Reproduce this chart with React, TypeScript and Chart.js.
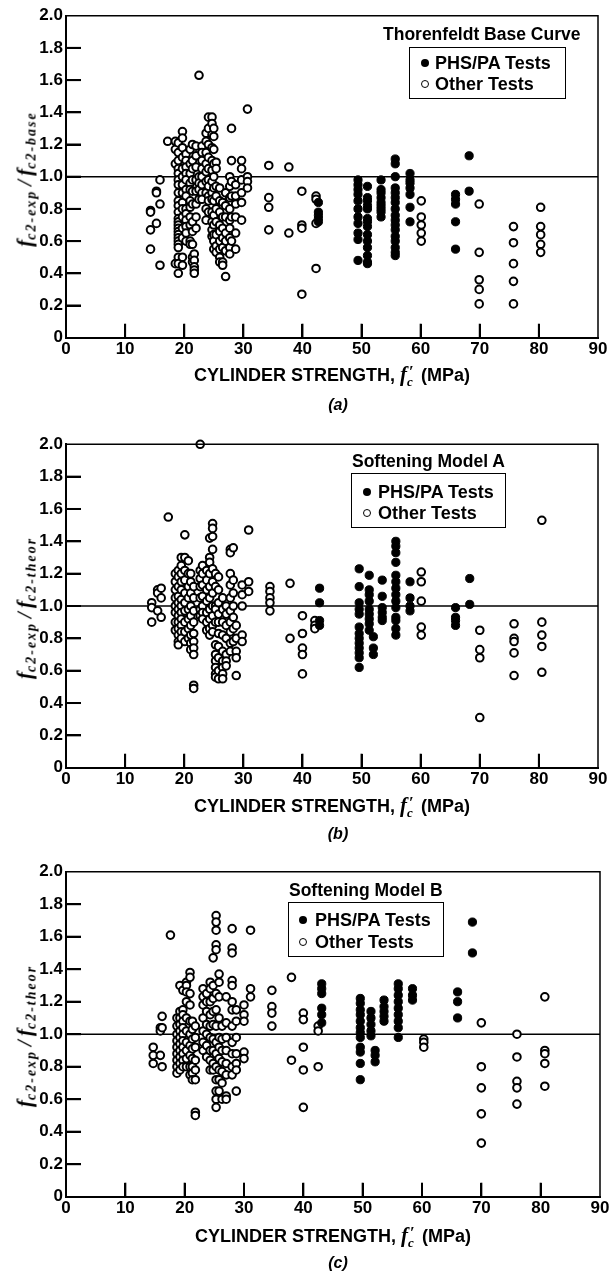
import React, { useEffect, useRef, useState } from "react";
import { Chart, registerables } from "chart.js";

Chart.register(...registerables);

type Col = [number, number[]];

// ---------- axes ----------
const X_MIN = 0;
const X_MAX = 90;
const Y_MIN = 0;
const Y_MAX = 2;
const X_TICKS = [0, 10, 20, 30, 40, 50, 60, 70, 80, 90];
const Y_TICKS = [0, 0.2, 0.4, 0.6, 0.8, 1.0, 1.2, 1.4, 1.6, 1.8, 2.0];
const REF_LINE = [
  { x: 0, y: 1 },
  { x: 90, y: 1 },
];

// ---------- data (x = cylinder strength MPa, list of ratios read at that x) ----------
const OTHER_A: Col[] = [
  [14.3, [0.79, 0.78, 0.67, 0.55]],
  [15.3, [0.91, 0.9, 0.71]],
  [15.9, [0.98, 0.83, 0.45]],
  [17.2, [1.22]],
  [18.5, [1.22, 1.17, 1.08, 0.46]],
  [19.0, [1.21, 1.15, 1.1, 1.05, 1.02, 0.98, 0.95, 0.9, 0.85, 0.82, 0.78, 0.74, 0.72, 0.7, 0.68, 0.66, 0.64, 0.62, 0.6, 0.58, 0.56, 0.5, 0.46, 0.4]],
  [19.7, [1.28, 1.24, 1.18, 1.12, 1.05, 1.0, 0.95, 0.9, 0.84, 0.8, 0.75, 0.68, 0.62, 0.5, 0.45]],
  [20.3, [1.14, 1.1, 1.06, 1.02, 0.98, 0.92, 0.88, 0.8, 0.77, 0.73, 0.69, 0.65, 0.6]],
  [21.0, [1.17, 1.08, 1.02, 0.96, 0.92, 0.85, 0.81, 0.75, 0.7, 0.6, 0.58]],
  [21.4, [1.2, 1.1, 1.05, 0.98, 0.91, 0.83, 0.72, 0.66, 0.58, 0.5, 0.47]],
  [21.7, [0.52, 0.48, 0.44, 0.42, 0.4]],
  [22.0, [1.19, 1.13, 1.06, 0.98, 0.91, 0.83, 0.75, 0.68]],
  [22.5, [1.63, 1.0, 0.96, 0.92, 0.86]],
  [23.0, [1.19, 1.15, 1.1, 1.05, 1.0, 0.95, 0.9, 0.86]],
  [23.7, [1.27, 1.22, 1.15, 1.08, 1.03, 0.97, 0.9, 0.8, 0.73]],
  [24.1, [1.37, 1.3, 1.2, 1.12, 1.05, 0.98, 0.94, 0.88, 0.85, 0.78]],
  [24.7, [1.37, 1.33, 1.26, 1.18, 1.1, 1.04, 0.97, 0.9, 0.86, 0.78, 0.72, 0.67, 0.63]],
  [25.0, [1.3, 1.25, 1.17, 1.08, 1.0, 0.93, 0.85, 0.76, 0.7, 0.64, 0.6, 0.55]],
  [25.4, [1.09, 1.05, 0.94, 0.88, 0.8, 0.72, 0.64, 0.57, 0.53]],
  [26.0, [0.93, 0.85, 0.78, 0.7, 0.66, 0.6, 0.55, 0.5, 0.47]],
  [26.5, [0.84, 0.75, 0.68, 0.62, 0.56, 0.47, 0.45]],
  [27.0, [0.9, 0.82, 0.75, 0.65, 0.6, 0.54, 0.38]],
  [27.7, [1.0, 0.94, 0.87, 0.8, 0.73, 0.68, 0.62, 0.56, 0.52]],
  [28.0, [1.3, 1.1, 0.97, 0.88, 0.75, 0.6]],
  [28.7, [0.95, 0.88, 0.83, 0.75, 0.65, 0.55]],
  [29.7, [1.1, 1.05, 0.98, 0.9, 0.84, 0.73]],
  [30.7, [1.42, 1.0, 0.97, 0.93]],
  [34.3, [1.07, 0.87, 0.81, 0.67]],
  [37.7, [1.06, 0.65]],
  [39.9, [0.91, 0.7, 0.68, 0.27]],
  [42.3, [0.88, 0.86, 0.71, 0.43]],
  [60.1, [0.85, 0.75, 0.7, 0.65, 0.6]],
  [69.9, [0.83, 0.53, 0.36, 0.3, 0.21]],
  [75.7, [0.69, 0.59, 0.46, 0.35, 0.21]],
  [80.3, [0.81, 0.69, 0.64, 0.58, 0.53]],
];

const PHS_A: Col[] = [
  [42.7, [0.84, 0.78, 0.76, 0.74, 0.72]],
  [49.4, [0.98, 0.95, 0.92, 0.89, 0.85, 0.8, 0.75, 0.71, 0.65, 0.61, 0.48]],
  [51.0, [0.94, 0.87, 0.85, 0.82, 0.8, 0.74, 0.72, 0.69, 0.64, 0.6, 0.56, 0.51, 0.47, 0.46]],
  [53.3, [0.98, 0.92, 0.9, 0.87, 0.84, 0.82, 0.8, 0.78, 0.75]],
  [55.7, [1.11, 1.08, 1.0, 0.93, 0.9, 0.87, 0.84, 0.8, 0.76, 0.73, 0.7, 0.67, 0.63, 0.6, 0.56, 0.53, 0.51]],
  [58.2, [1.02, 0.98, 0.96, 0.93, 0.89, 0.81, 0.72]],
  [65.9, [0.89, 0.86, 0.83, 0.72, 0.55]],
  [68.2, [1.13, 0.91]],
];

const OTHER_B: Col[] = [
  [14.5, [1.02, 0.99, 0.9]],
  [15.5, [1.1, 1.08, 0.97]],
  [16.1, [1.11, 1.05, 0.93]],
  [17.3, [1.55]],
  [18.5, [1.2, 1.15, 1.1, 1.05, 1.0, 0.96, 0.9, 0.85]],
  [19.0, [1.22, 1.18, 1.12, 1.06, 1.02, 0.98, 0.94, 0.9, 0.86, 0.82, 0.78, 0.76]],
  [19.5, [1.3, 1.25, 1.2, 1.15, 1.1, 1.04, 1.0, 0.96, 0.92, 0.88, 0.84, 0.8]],
  [20.1, [1.44, 1.3, 1.22, 1.16, 1.08, 1.02, 0.97, 0.9, 0.84, 0.78]],
  [20.7, [1.28, 1.2, 1.12, 1.05, 0.98, 0.92, 0.86, 0.8]],
  [21.1, [1.2, 1.15, 1.08, 1.0, 0.94, 0.88, 0.82, 0.77, 0.73]],
  [21.6, [1.12, 1.05, 0.97, 0.9, 0.83, 0.78, 0.74, 0.7, 0.51, 0.49]],
  [22.7, [2.0, 1.22, 1.17, 1.12, 1.05, 0.98, 0.94]],
  [23.1, [1.25, 1.2, 1.13, 1.06, 1.0, 0.96, 0.92]],
  [23.8, [1.22, 1.16, 1.1, 1.03, 0.96, 0.9, 0.85]],
  [24.3, [1.42, 1.3, 1.27, 1.2, 1.12, 1.05, 0.98, 0.92, 0.86, 0.82]],
  [24.8, [1.51, 1.48, 1.43, 1.35, 1.23, 1.15, 1.08, 1.0, 0.94, 0.88, 0.84]],
  [25.3, [1.2, 1.12, 1.0, 0.98, 0.9, 0.76, 0.7, 0.66, 0.62, 0.58, 0.56]],
  [25.8, [1.18, 1.1, 1.02, 0.95, 0.9, 0.83, 0.75, 0.68, 0.6, 0.55]],
  [26.5, [1.05, 0.98, 0.9, 0.82, 0.72, 0.66, 0.62, 0.58, 0.55]],
  [27.1, [1.0, 0.95, 0.88, 0.8, 0.7, 0.66, 0.63]],
  [27.8, [1.35, 1.33, 1.2, 1.13, 1.05, 0.97, 0.9, 0.84, 0.77, 0.72]],
  [28.3, [1.36, 1.16, 1.08, 1.0, 0.93, 0.86, 0.78]],
  [28.8, [0.88, 0.8, 0.72, 0.68, 0.57]],
  [29.8, [1.13, 1.07, 1.0, 0.82, 0.78]],
  [30.9, [1.47, 1.15, 1.09]],
  [34.5, [1.12, 1.09, 1.05, 1.02, 0.97]],
  [37.9, [1.14, 0.8]],
  [40.0, [0.94, 0.83, 0.74, 0.7, 0.58]],
  [42.1, [0.91, 0.88, 0.86]],
  [60.1, [1.21, 1.15, 1.03, 0.87, 0.82]],
  [70.0, [0.85, 0.73, 0.68, 0.31]],
  [75.8, [0.89, 0.8, 0.78, 0.71, 0.57]],
  [80.5, [1.53, 0.9, 0.82, 0.75, 0.59]],
];

const PHS_B: Col[] = [
  [42.9, [1.11, 1.02, 0.91, 0.88]],
  [49.6, [1.23, 1.12, 1.02, 0.98, 0.95, 0.87, 0.83, 0.8, 0.77, 0.74, 0.71, 0.68, 0.62]],
  [51.3, [1.19, 1.1, 1.07, 1.03, 0.98, 0.95, 0.92, 0.89, 0.85]],
  [52.0, [0.81, 0.74, 0.7]],
  [53.5, [1.16, 1.06, 0.99, 0.96, 0.93, 0.91]],
  [55.8, [1.4, 1.37, 1.33, 1.27, 1.19, 1.15, 1.11, 1.07, 1.03, 0.99, 0.93, 0.91, 0.86, 0.82]],
  [58.2, [1.15, 1.05, 1.0, 0.97]],
  [65.9, [0.99, 0.93, 0.91, 0.88]],
  [68.3, [1.17, 1.01]],
];

const OTHER_C: Col[] = [
  [14.7, [0.92, 0.87, 0.82]],
  [15.9, [1.04, 1.02, 0.87]],
  [16.2, [1.11, 1.04, 0.8]],
  [17.6, [1.61]],
  [18.7, [1.1, 1.05, 1.0, 0.96, 0.92, 0.88, 0.84, 0.8, 0.76]],
  [19.2, [1.3, 1.14, 1.1, 1.06, 1.02, 0.98, 0.94, 0.9, 0.86, 0.82, 0.78]],
  [19.7, [1.27, 1.15, 1.12, 1.08, 1.04, 1.0, 0.96, 0.92, 0.88, 0.84, 0.8]],
  [20.3, [1.32, 1.3, 1.26, 1.2, 1.1, 1.02, 0.95, 0.9, 0.85, 0.8]],
  [20.9, [1.38, 1.35, 1.25, 1.18, 1.08, 1.0, 0.93, 0.87, 0.8, 0.75]],
  [21.3, [1.08, 1.03, 0.97, 0.91, 0.85, 0.8, 0.76, 0.72]],
  [21.8, [1.05, 0.98, 0.92, 0.84, 0.78, 0.72, 0.52, 0.5]],
  [23.1, [1.28, 1.23, 1.18, 1.1, 1.02, 0.95, 0.9]],
  [23.7, [1.25, 1.2, 1.14, 1.06, 1.0, 0.93, 0.86]],
  [24.3, [1.32, 1.28, 1.2, 1.12, 1.05, 0.98, 0.9, 0.84, 0.78]],
  [24.8, [1.47, 1.3, 1.22, 1.14, 1.06, 0.97, 0.9, 0.82, 0.78]],
  [25.3, [1.73, 1.69, 1.64, 1.55, 1.52, 1.25, 1.15, 1.05, 0.95, 0.88, 0.8, 0.72, 0.65, 0.6, 0.55]],
  [25.8, [1.37, 1.32, 1.23, 1.1, 0.98, 0.92, 0.85, 0.78, 0.72, 0.65]],
  [26.3, [1.05, 0.97, 0.9, 0.83, 0.77, 0.7, 0.6]],
  [27.0, [1.23, 1.07, 0.98, 0.9, 0.82, 0.75, 0.62, 0.6]],
  [28.0, [1.65, 1.53, 1.5, 1.33, 1.3, 1.2, 1.15, 1.05, 0.95, 0.88, 0.8, 0.75]],
  [28.7, [1.15, 1.08, 0.98, 0.88, 0.82, 0.78, 0.65]],
  [30.0, [1.18, 1.12, 1.08, 0.89, 0.85]],
  [31.1, [1.64, 1.28, 1.23]],
  [34.7, [1.27, 1.17, 1.13, 1.05]],
  [38.0, [1.35, 0.84]],
  [40.0, [1.13, 1.09, 0.92, 0.78, 0.55]],
  [42.5, [1.05, 1.02, 0.8]],
  [60.3, [0.97, 0.95, 0.92]],
  [70.0, [1.07, 0.8, 0.67, 0.51, 0.33]],
  [76.0, [1.0, 0.86, 0.71, 0.67, 0.57]],
  [80.7, [1.23, 0.9, 0.88, 0.82, 0.68]],
];

const PHS_C: Col[] = [
  [43.1, [1.31, 1.28, 1.25, 1.16, 1.12, 1.07]],
  [49.6, [1.22, 1.19, 1.15, 1.12, 1.08, 1.04, 1.01, 0.98, 0.92, 0.89, 0.82, 0.72]],
  [51.4, [1.14, 1.1, 1.06, 1.02, 0.99]],
  [52.1, [0.9, 0.87, 0.83]],
  [53.6, [1.21, 1.17, 1.14, 1.11, 1.08]],
  [56.0, [1.31, 1.28, 1.24, 1.2, 1.16, 1.12, 1.08, 1.04, 0.98]],
  [58.4, [1.28, 1.24, 1.21]],
  [66.0, [1.26, 1.2, 1.1]],
  [68.5, [1.69, 1.5]],
];

const SERIES_LABELS = ["PHS/PA Tests", "Other Tests"];
const X_TITLE_MAIN = "CYLINDER STRENGTH, ";

// ---------- layout ----------
const W = 616;
const SANS = '"Liberation Sans", Arial, Helvetica, sans-serif';
const SERIF = '"Liberation Serif", "Times New Roman", serif';
const Y_TICK_LEN = 15;
const X_TICK_LEN = 14;

type PanelCfg = {
  id: string;
  top: number;
  height: number;
  area: { top: number; bottom: number; left: number; right: number };
  other: Col[];
  phs: Col[];
  legendTitle: string;
  ySub: string;
  yTitleY: number;
  xTitleY: number;
  captionY: number;
  legTitleLeft: number;
  legTitleY: number;
  box: { left: number; top: number; w: number; h: number; mx: number; m1: number; m2: number; tx: number };
};

const PANELS: PanelCfg[] = [
  {
    id: "a",
    top: 0,
    height: 420,
    area: { top: 15.7, bottom: 337.7, left: 66, right: 598 },
    other: OTHER_A,
    phs: PHS_A,
    legendTitle: "Thorenfeldt Base Curve",
    ySub: "c2-base",
    yTitleY: 179,
    xTitleY: 375,
    captionY: 405,
    legTitleLeft: 383,
    legTitleY: 33.5,
    box: { left: 409, top: 47, w: 157, h: 52, mx: 15, m1: 15, m2: 36, tx: 25 },
  },
  {
    id: "b",
    top: 420,
    height: 420,
    area: { top: 24.3, bottom: 347.7, left: 66, right: 598 },
    other: OTHER_B,
    phs: PHS_B,
    legendTitle: "Softening Model A",
    ySub: "c2-theor",
    yTitleY: 188,
    xTitleY: 386,
    captionY: 414,
    legTitleLeft: 352,
    legTitleY: 41,
    box: { left: 351, top: 53, w: 155, h: 55, mx: 15, m1: 18, m2: 39, tx: 26 },
  },
  {
    id: "c",
    top: 840,
    height: 437,
    area: { top: 31.7, bottom: 356.7, left: 66, right: 600 },
    other: OTHER_C,
    phs: PHS_C,
    legendTitle: "Softening Model B",
    ySub: "c2-theor",
    yTitleY: 196,
    xTitleY: 396,
    captionY: 423,
    legTitleLeft: 289,
    legTitleY: 50,
    box: { left: 288, top: 62, w: 156, h: 55, mx: 14, m1: 17, m2: 39, tx: 26 },
  },
];

function flatten(cols: Col[]) {
  return cols.flatMap(([x, ys]) => ys.map((y) => ({ x, y })));
}

// top and right frame lines plus inward tick marks on the canvas
const framePlugin = {
  id: "frameTicks",
  afterDraw(chart: any) {
    const ctx: CanvasRenderingContext2D = chart.ctx;
    const area = chart.chartArea;
    const xs = chart.scales["x"];
    const ys = chart.scales["y"];
    ctx.save();
    ctx.strokeStyle = "#000000";
    ctx.fillStyle = "#000000";
    ctx.lineWidth = 1.5;
    ctx.beginPath();
    ctx.moveTo(area.left, area.top);
    ctx.lineTo(area.right, area.top);
    ctx.lineTo(area.right, area.bottom);
    ctx.stroke();
    for (let i = 0; i < Y_TICKS.length; i++) {
      const v = Y_TICKS[i];
      if (v <= Y_MIN || v >= Y_MAX) continue;
      const py = ys.getPixelForValue(v);
      ctx.fillRect(area.left, py - 1, Y_TICK_LEN, 2);
    }
    for (let i = 0; i < X_TICKS.length; i++) {
      const v = X_TICKS[i];
      if (v <= X_MIN || v >= X_MAX) continue;
      const px = xs.getPixelForValue(v);
      ctx.fillRect(px - 1, area.bottom - X_TICK_LEN, 2, X_TICK_LEN);
    }
    ctx.restore();
  },
};

type TickPos = { left: number; bottom: number; ys: number[]; xs: number[] };

function Panel({ cfg }: { cfg: PanelCfg }) {
  const ref = useRef<HTMLCanvasElement>(null);
  const [tickPos, setTickPos] = useState<TickPos | null>(null);
  useEffect(() => {
    const canvas = ref.current;
    if (!canvas) return;
    const xAxisH = 40;
    const tickFont = { family: SANS, size: 17, weight: "bold" as const };
    const chart = new Chart(canvas, {
      type: "scatter",
      data: {
        datasets: [
          {
            label: SERIES_LABELS[0],
            data: flatten(cfg.phs),
            pointRadius: 4.1,
            pointBackgroundColor: "#000",
            pointBorderColor: "#000",
            pointBorderWidth: 1,
            order: 0,
            clip: false as any,
          },
          {
            label: SERIES_LABELS[1],
            data: flatten(cfg.other),
            pointRadius: 3.8,
            pointBackgroundColor: "#fff",
            pointBorderColor: "#000",
            pointBorderWidth: 2,
            order: 1,
            clip: false as any,
          },
          {
            label: "ref",
            data: REF_LINE,
            showLine: true,
            pointRadius: 0,
            borderColor: "#000",
            borderWidth: 1.5,
            order: 2,
          } as any,
        ],
      },
      options: {
        responsive: false,
        animation: false,
        events: [],
        layout: {
          padding: {
            left: 0,
            right: W - cfg.area.right,
            top: cfg.area.top,
            bottom: cfg.height - cfg.area.bottom - xAxisH,
          },
        },
        scales: {
          x: {
            type: "linear",
            min: X_MIN,
            max: X_MAX,
            afterFit: (s: any) => {
              s.height = xAxisH;
            },
            afterBuildTicks: (s: any) => {
              s.ticks = X_TICKS.map((v) => ({ value: v }));
            },
            grid: { display: false, drawTicks: false },
            border: { display: true, width: 2, color: "#000" },
            ticks: {
              padding: 1,
              color: "#000",
              font: tickFont,
              maxRotation: 0,
              autoSkip: false,
            },
          },
          y: {
            type: "linear",
            min: Y_MIN,
            max: Y_MAX,
            afterFit: (s: any) => {
              s.width = cfg.area.left;
            },
            afterBuildTicks: (s: any) => {
              s.ticks = Y_TICKS.map((v) => ({ value: v }));
            },
            grid: { display: false, drawTicks: false },
            border: { display: true, width: 2, color: "#000" },
            ticks: {
              padding: 3,
              color: "#000",
              font: tickFont,
              autoSkip: false,
              callback: (v: any) => (Math.abs(Number(v)) < 1e-9 ? "0" : Number(v).toFixed(1)),
            },
          },
        },
        plugins: {
          legend: { display: false },
          tooltip: { enabled: false },
        },
      },
      plugins: [framePlugin],
    });
    const ca = chart.chartArea;
    const sx = chart.scales["x"];
    const sy = chart.scales["y"];
    setTickPos({
      left: ca.left,
      bottom: ca.bottom,
      ys: Y_TICKS.filter((v) => v > Y_MIN && v < Y_MAX).map((v) => sy.getPixelForValue(v)),
      xs: X_TICKS.filter((v) => v > X_MIN && v < X_MAX).map((v) => sx.getPixelForValue(v)),
    });
    return () => chart.destroy();
  }, [cfg]);

  const b = cfg.box;
  const plotCx = (cfg.area.left + cfg.area.right) / 2;
  const legendText: React.CSSProperties = {
    position: "absolute",
    left: b.tx,
    transform: "translateY(-50%)",
    fontFamily: SANS,
    fontWeight: "bold",
    fontSize: 18,
    lineHeight: "20px",
    whiteSpace: "nowrap",
  };
  const subStyle: React.CSSProperties = { fontSize: 14, position: "relative", top: 4, letterSpacing: 2 };
  return (
    <div style={{ position: "absolute", left: 0, top: cfg.top, width: W, height: cfg.height }}>
      <canvas ref={ref} width={W} height={cfg.height} style={{ position: "absolute", left: 0, top: 0 }} />
      {/* inward tick marks, placed from the chart's own scales */}
      {tickPos &&
        tickPos.ys.map((py, i) => (
          <div
            key={"yt" + i}
            style={{ position: "absolute", left: tickPos.left, top: py - 1, width: Y_TICK_LEN, height: 2, background: "#000" }}
          />
        ))}
      {tickPos &&
        tickPos.xs.map((px, i) => (
          <div
            key={"xt" + i}
            style={{
              position: "absolute",
              left: px - 1,
              top: tickPos.bottom - X_TICK_LEN,
              width: 2,
              height: X_TICK_LEN,
              background: "#000",
            }}
          />
        ))}
      {/* y title */}
      <div
        style={{
          position: "absolute",
          left: 25,
          top: cfg.yTitleY,
          transform: "translate(-50%,-50%) rotate(-90deg)",
          whiteSpace: "nowrap",
          fontFamily: SERIF,
          fontStyle: "italic",
          fontWeight: "bold",
          lineHeight: 1,
        }}
      >
        <span style={{ fontSize: 21 }}>f</span>
        <span style={subStyle}>c2-exp</span>
        <span style={{ fontSize: 21, margin: "0 4px" }}>/</span>
        <span style={{ fontSize: 21 }}>f</span>
        <span style={subStyle}>{cfg.ySub}</span>
      </div>
      {/* x title */}
      <div
        style={{
          position: "absolute",
          left: plotCx,
          top: cfg.xTitleY,
          transform: "translate(-50%,-50%)",
          whiteSpace: "nowrap",
          fontFamily: SANS,
          fontWeight: "bold",
          fontSize: 18,
          lineHeight: "20px",
        }}
      >
        {X_TITLE_MAIN}
        <span style={{ fontFamily: SERIF, fontStyle: "italic", fontSize: 21 }}>f</span>
        <span style={{ display: "inline-block", position: "relative", width: 9 }}>
          <span style={{ position: "absolute", left: 2, top: -3, fontFamily: SERIF, fontSize: 17 }}>′</span>
          <span style={{ position: "relative", top: 5, fontFamily: SERIF, fontStyle: "italic", fontSize: 13 }}>c</span>
        </span>
        {" (MPa)"}
      </div>
      {/* caption */}
      <div
        style={{
          position: "absolute",
          left: 338,
          top: cfg.captionY,
          transform: "translate(-50%,-50%)",
          fontFamily: SANS,
          fontWeight: "bold",
          fontStyle: "italic",
          fontSize: 16,
          lineHeight: "20px",
        }}
      >
        ({cfg.id})
      </div>
      {/* legend title */}
      <div
        style={{
          position: "absolute",
          left: cfg.legTitleLeft,
          top: cfg.legTitleY,
          transform: "translateY(-50%)",
          fontFamily: SANS,
          fontWeight: "bold",
          fontSize: 17.5,
          lineHeight: "20px",
          whiteSpace: "nowrap",
        }}
      >
        {cfg.legendTitle}
      </div>
      {/* legend box */}
      <div
        style={{
          position: "absolute",
          left: b.left,
          top: b.top,
          width: b.w,
          height: b.h,
          boxSizing: "border-box",
          border: "1.5px solid #000",
          background: "#fff",
        }}
      >
        <div
          style={{
            position: "absolute",
            left: b.mx - 4,
            top: b.m1 - 4,
            width: 8,
            height: 8,
            borderRadius: "50%",
            background: "#000",
          }}
        />
        <div style={{ ...legendText, top: b.m1 }}>{SERIES_LABELS[0]}</div>
        <div
          style={{
            position: "absolute",
            left: b.mx - 4,
            top: b.m2 - 4,
            width: 8,
            height: 8,
            boxSizing: "border-box",
            borderRadius: "50%",
            border: "1.5px solid #000",
            background: "#fff",
          }}
        />
        <div style={{ ...legendText, top: b.m2 }}>{SERIES_LABELS[1]}</div>
      </div>
    </div>
  );
}

export default function App() {
  return (
    <div style={{ position: "absolute", left: 0, top: 0, width: W, height: 1277, background: "#fff" }}>
      {PANELS.map((p) => (
        <Panel key={p.id} cfg={p} />
      ))}
    </div>
  );
}
